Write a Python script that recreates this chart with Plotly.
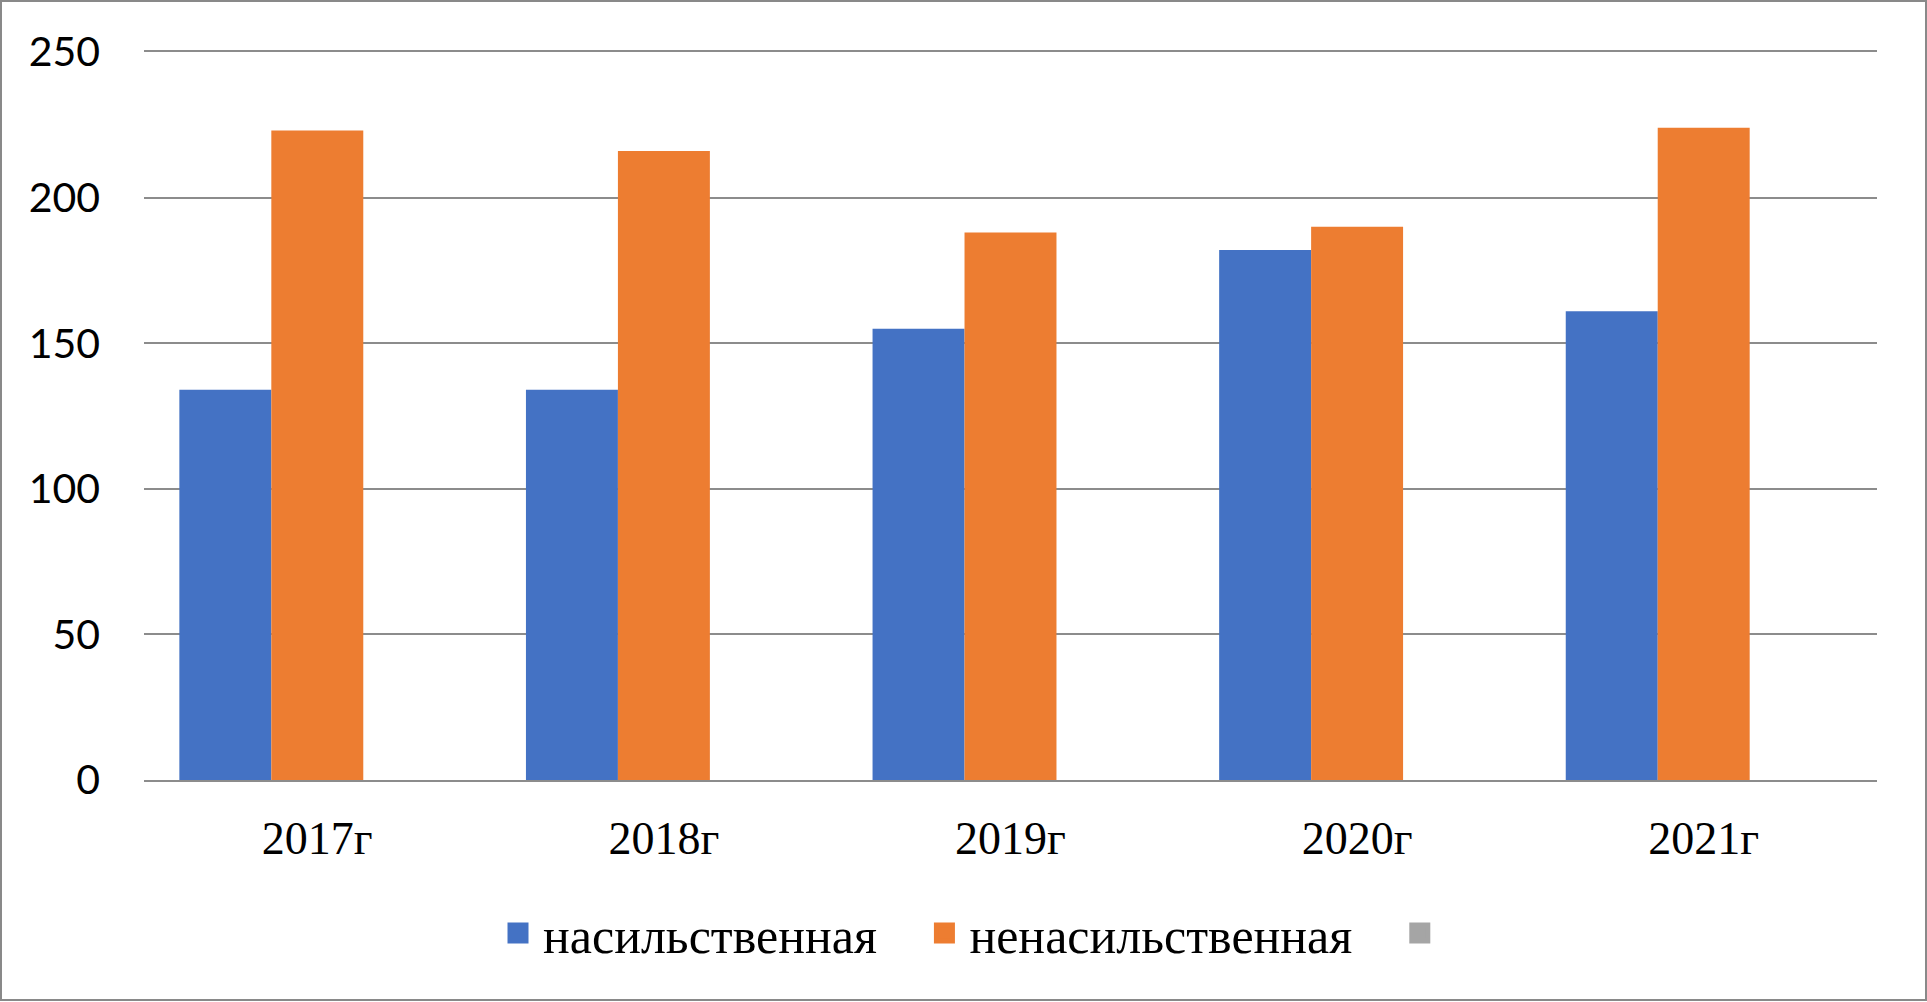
import plotly.graph_objects as go

# данные
years = ["2017г", "2018г", "2019г", "2020г", "2021г"]
violent = [134, 134, 155, 182, 161]
nonviolent = [223, 216, 188, 190, 224]
third = [None, None, None, None, None]  # пустой третий ряд (серый в легенде)

series_names = ["насильственная", "ненасильственная", ""]
series_colors = ["#4472C4", "#ED7D31", "#A5A5A5"]
y_ticks = [0, 50, 100, 150, 200, 250]

W, H = 1927, 1002
ml, mr, mt, mb = 144, 50, 52, 222
pw, ph = W - ml - mr, H - mt - mb

serif = "Liberation Serif, Times New Roman, serif"
pad = "\u00a0" * 3  # отступ между элементами легенды

fig = go.Figure()
for name, vals, col in zip(series_names, [violent, nonviolent, third], series_colors):
    fig.add_trace(go.Bar(x=years, y=vals, name=name, marker_color=col,
                         marker_line_width=0, showlegend=False))
    # маркер для легенды (крупнее, чем у столбцов по умолчанию)
    fig.add_trace(go.Scatter(x=[None], y=[None], mode="markers",
                             name=(name + pad) if name else "\u00a0",
                             marker=dict(symbol="square", size=24, color=col,
                                         line=dict(color=col, width=8))))

fig.update_layout(
    width=W, height=H,
    margin=dict(l=ml, r=mr, t=mt, b=mb),
    font=dict(family=serif, color="black"),
    barmode="group", bargap=0.204, bargroupgap=0,
    plot_bgcolor="white", paper_bgcolor="white",
    legend=dict(orientation="h", x=(978 - ml) / pw, xanchor="center",
                y=(780 - 933) / ph, yanchor="middle",
                font=dict(family=serif, size=50, color="black"),
                itemsizing="trace", itemwidth=40),
    shapes=[dict(type="rect", xref="paper", yref="paper",
                 x0=(1 - ml) / pw, x1=(1926 - ml) / pw,
                 y0=(780 - 1000) / ph, y1=(780 - 1) / ph,
                 line=dict(color="#898989", width=2), layer="below")],
)
fig.update_xaxes(categoryorder="array", categoryarray=years,
                 tickfont=dict(family=serif, size=46, color="black"),
                 showline=True, mirror=True, linecolor="#8c8c8c", linewidth=2,
                 ticks="", ticklabelstandoff=17, showgrid=False)
fig.update_yaxes(range=[0, 250], tickvals=y_ticks,
                 tickfont=dict(family="Lato", size=41, color="black"),
                 showgrid=True, gridcolor="#8c8c8c", gridwidth=2,
                 zeroline=False, showline=False, ticks="", ticklabelstandoff=43)

fig.write_html("out.html", config={"displayModeBar": False},
               post_script="document.body.style.margin='0';"
                           "document.body.style.overflow='hidden';")
